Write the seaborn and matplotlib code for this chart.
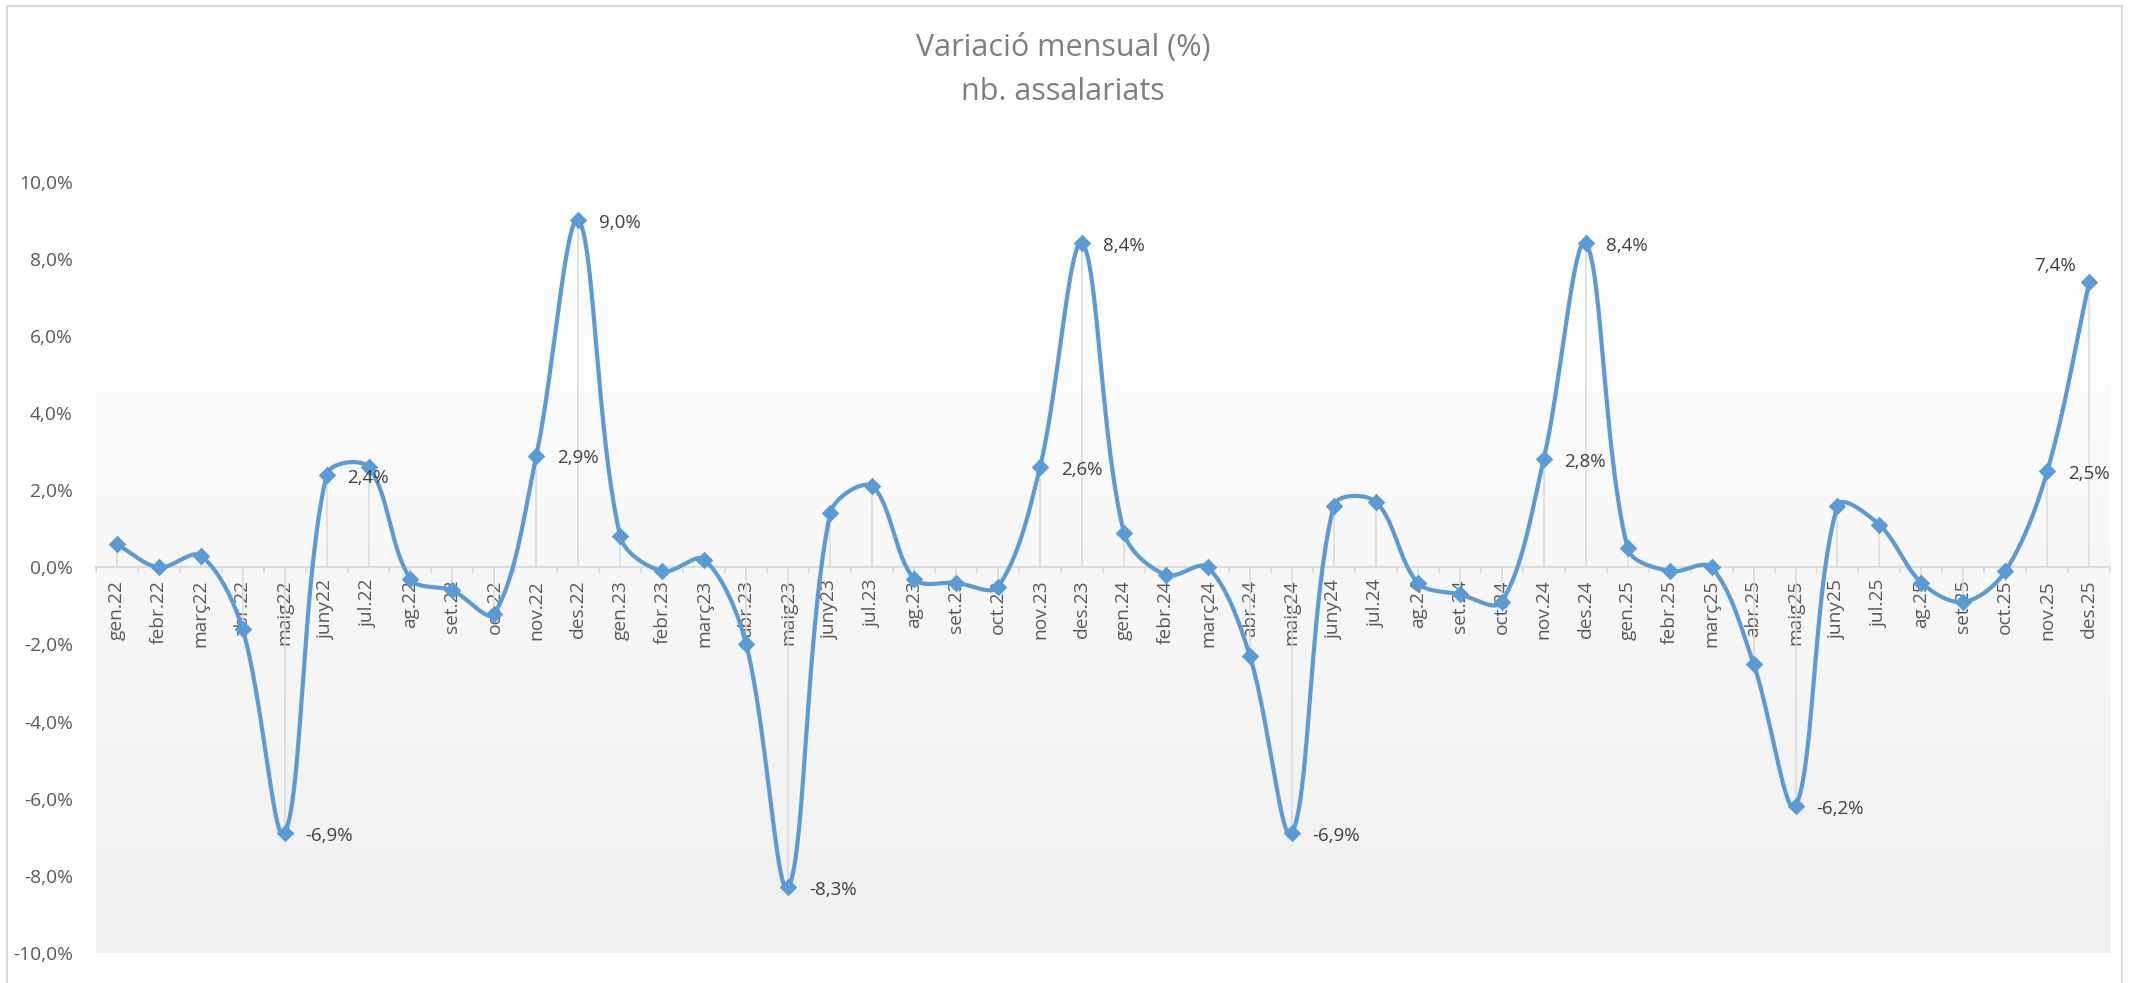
import numpy as np
import pandas as pd
import matplotlib
matplotlib.use("Agg")
import matplotlib.pyplot as plt
import seaborn as sns
from matplotlib.patches import Rectangle
from matplotlib.colors import LinearSegmentedColormap
from matplotlib.ticker import FixedLocator, FuncFormatter

# ---------------- data ----------------
months = [
    "gen.22", "febr.22", "març22", "abr.22", "maig22", "juny22", "jul.22", "ag.22", "set.22", "oct.22", "nov.22", "des.22",
    "gen.23", "febr.23", "març23", "abr.23", "maig23", "juny23", "jul.23", "ag.23", "set.23", "oct.23", "nov.23", "des.23",
    "gen.24", "febr.24", "març24", "abr.24", "maig24", "juny24", "jul.24", "ag.24", "set.24", "oct.24", "nov.24", "des.24",
    "gen.25", "febr.25", "març25", "abr.25", "maig25", "juny25", "jul.25", "ag.25", "set.25", "oct.25", "nov.25", "des.25",
]
values = [
    0.6, 0.0, 0.3, -1.6, -6.9, 2.4, 2.6, -0.3, -0.6, -1.2, 2.9, 9.0,
    0.8, -0.1, 0.2, -2.0, -8.3, 1.4, 2.1, -0.3, -0.4, -0.5, 2.6, 8.4,
    0.9, -0.2, 0.0, -2.3, -6.9, 1.6, 1.7, -0.4, -0.7, -0.9, 2.8, 8.4,
    0.5, -0.1, 0.0, -2.5, -6.2, 1.6, 1.1, -0.4, -0.9, -0.1, 2.5, 7.4,
]
labelled_right = ["maig22", "juny22", "nov.22", "des.22", "maig23", "nov.23", "des.23",
                  "maig24", "nov.24", "des.24", "maig25", "nov.25"]
labelled_left_above = ["des.25"]
yticks = [-10, -8, -6, -4, -2, 0, 2, 4, 6, 8, 10]
title_lines = ["Variació mensual (%)", "nb. assalariats"]

# ---------------- style ----------------
sns.set_style("white")
plt.rcParams['font.family'] = ['Open Sans', 'DejaVu Sans']

LINE = "#5B9BD5"
GRID = "#d9d9d9"
TICK_TXT = "#595959"
LBL_TXT = "#404040"

W, H = 2136, 983
AX_L, AX_R, AX_T, AX_B = 95.7, 2110.3, 181.7, 953.0
fig = plt.figure(figsize=(W / 100, H / 100), dpi=100, facecolor="white")
ax = fig.add_axes([AX_L / W, 1 - AX_B / H, (AX_R - AX_L) / W, (AX_B - AX_T) / H])

df = pd.DataFrame({"month": months, "value": values})
df["pos"] = np.arange(len(df))
n_cat = len(df)

# gradient plot-area background
cmap = LinearSegmentedColormap.from_list("bg", ["#f0f0f0", "#ffffff"])
grad = np.linspace(1, 0, 256).reshape(-1, 1)
ax.imshow(grad, extent=[-0.5, n_cat - 0.5, yticks[0], yticks[-1]], aspect="auto",
          cmap=cmap, origin="upper", zorder=0, interpolation="bilinear")

# drop lines
ax.vlines(df["pos"], 0, df["value"], colors=GRID, lw=1.1, zorder=1)

# Excel-like smoothing: Bezier with chord-length weighted tangents (pixel space)
px_x = (AX_R - AX_L) / n_cat
px_y = (AX_B - AX_T) / (yticks[-1] - yticks[0])

def smooth_curve(xp, yp, n=40):
    P = np.column_stack([np.asarray(xp, float) * px_x, np.asarray(yp, float) * px_y])
    Pe = np.vstack([P[0], P, P[-1]])
    segs = []
    for i in range(len(P) - 1):
        p0, p1, p2, p3 = Pe[i], Pe[i + 1], Pe[i + 2], Pe[i + 3]
        d01 = np.linalg.norm(p1 - p0)
        d12 = np.linalg.norm(p2 - p1)
        d23 = np.linalg.norm(p3 - p2)
        f1 = d12 / (d01 + d12) / 3.0 if (d01 + d12) > 0 else 0
        f2 = d12 / (d12 + d23) / 3.0 if (d12 + d23) > 0 else 0
        b1 = p1 + (p2 - p0) * f1
        b2 = p2 - (p3 - p1) * f2
        t = np.linspace(0, 1, n, endpoint=(i == len(P) - 2))[:, None]
        segs.append((1 - t) ** 3 * p1 + 3 * (1 - t) ** 2 * t * b1 + 3 * (1 - t) * t ** 2 * b2 + t ** 3 * p2)
    C = np.vstack(segs)
    return C[:, 0] / px_x, C[:, 1] / px_y

cx, cy = smooth_curve(df["pos"].values, df["value"].values)
cdf = pd.DataFrame({"x": cx, "y": cy})
sns.lineplot(data=cdf, x="x", y="y", sort=False, estimator=None, color=LINE, lw=3.0,
             ax=ax, zorder=3)
sns.scatterplot(data=df, x="pos", y="value", marker="D", s=80, color=LINE, linewidth=0,
                ax=ax, zorder=4)

# data labels
def fmt(v):
    return f"{v:.1f}".replace(".", ",") + "%"

for _, r in df.iterrows():
    if r["month"] in labelled_right:
        ax.annotate(fmt(r["value"]), (r["pos"], r["value"]), xytext=(15, -2),
                    textcoords="offset points", ha="left", va="center",
                    fontsize=13.5, color=LBL_TXT, zorder=5)
    elif r["month"] in labelled_left_above:
        ax.annotate(fmt(r["value"]), (r["pos"], r["value"]), xytext=(-10, 11.5),
                    textcoords="offset points", ha="right", va="center",
                    fontsize=13.5, color=LBL_TXT, zorder=5)

# axes
ax.set_xlim(-0.5, n_cat - 0.5)
ax.set_ylim(yticks[0], yticks[-1])
for s in ["top", "right", "left"]:
    ax.spines[s].set_visible(False)
ax.spines["bottom"].set_position(("data", 0))
ax.spines["bottom"].set_color(GRID)
ax.spines["bottom"].set_linewidth(1.3)
ax.spines["bottom"].set_zorder(2)

ax.set_xticks(df["pos"])
ax.set_xticklabels(df["month"], rotation=90)
ax.xaxis.set_minor_locator(FixedLocator(np.arange(n_cat + 1) - 0.5))
ax.tick_params(axis="x", which="major", length=0, pad=9, labelsize=13.8, labelcolor=TICK_TXT)
ax.tick_params(axis="x", which="minor", length=4, width=1.1, color=GRID, direction="out", bottom=True)

ax.set_yticks(yticks)
ax.yaxis.set_major_formatter(FuncFormatter(lambda v, p: f"{v:.1f}".replace(".", ",") + "%"))
ax.tick_params(axis="y", length=0, pad=16.5, labelsize=13.8, labelcolor=TICK_TXT)
ax.set_xlabel("")
ax.set_ylabel("")
ax.grid(False)

# title
fig.text(1063 / W, 1 - 48 / H, title_lines[0], ha="center", va="center", fontsize=22, color="#7f7f7f")
fig.text(1063 / W, 1 - 92 / H, title_lines[1], ha="center", va="center", fontsize=22, color="#7f7f7f")

# chart-area border
fig.patches.append(Rectangle((6.7 / W, -0.05), (2122 - 6.7) / W, 1 - 6 / H + 0.05,
                             transform=fig.transFigure, fill=False, edgecolor=GRID, lw=1.5))

fig.savefig("out.png", dpi=100, facecolor="white")
